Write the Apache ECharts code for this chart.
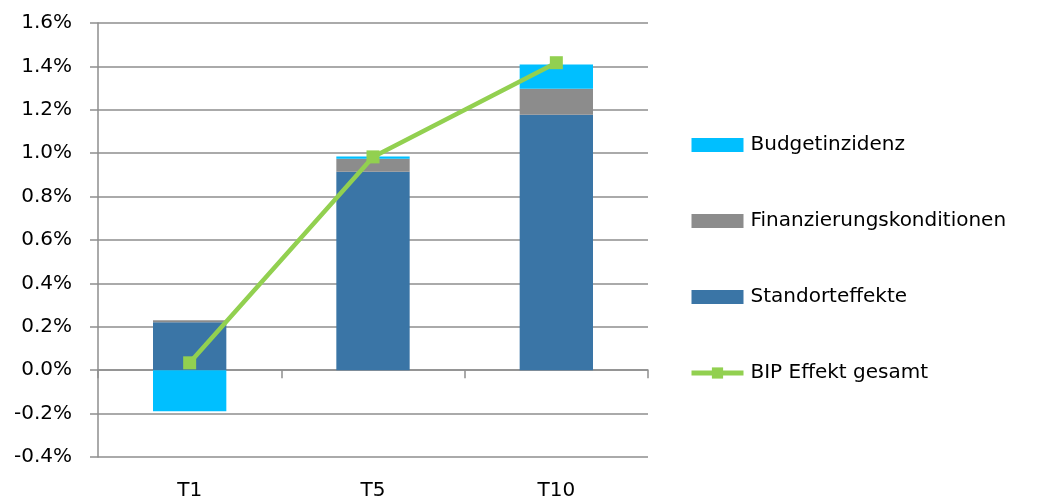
<!DOCTYPE html>
<html>
<head>
<meta charset="utf-8">
<script src="https://cdn.jsdelivr.net/npm/echarts@6/dist/echarts.min.js"></script>
<style>
  html, body { margin: 0; padding: 0; background: #fff; }
  #chart { width: 1043px; height: 502px; }
</style>
</head>
<body>
<div id="chart"></div>
<script>
// Werte in Prozent
const categories = ['T1', 'T5', 'T10'];
const standortValues = [0.221, 0.914, 1.177];
const finanzValues = [0.009, 0.061, 0.12];
const budgetValues = [-0.189, 0.01, 0.112];
const bipValues = [0.034, 0.983, 1.417];

const colors = {
    budget: '#00BFFF',
    finanz: '#8C8C8C',
    standort: '#3A75A6',
    bip: '#92D050',
    grid: '#8E8E8E'
};

const font = 'DejaVu Sans';
const chart = echarts.init(document.getElementById('chart'));

chart.setOption({
    animation: false,
    backgroundColor: '#fff',
    grid: { left: 98, right: 395, top: 23, bottom: 45 },
    legend: {
        orient: 'vertical',
        left: 684,
        top: 130,
        itemWidth: 52,
        itemHeight: 14,
        itemGap: 56,
        textStyle: { fontFamily: font, fontSize: 20, color: '#000', padding: [0, 0, 0, 2] },
        data: [
            { name: 'Budgetinzidenz', icon: 'rect' },
            { name: 'Finanzierungskonditionen', icon: 'rect' },
            { name: 'Standorteffekte', icon: 'rect' },
            { name: 'BIP Effekt gesamt', lineStyle: { width: 5 } }
        ]
    },
    xAxis: [
        {
            type: 'category',
            data: categories,
            axisLine: { onZero: true, lineStyle: { color: colors.grid, width: 1.5 } },
            axisTick: { show: true, length: 8, lineStyle: { color: colors.grid, width: 1.5 } },
            axisLabel: { show: false }
        },
        {
            type: 'category',
            data: categories,
            position: 'bottom',
            axisLine: { show: false, onZero: false },
            axisTick: { show: false },
            axisLabel: { fontFamily: font, fontSize: 20, color: '#000', margin: 24 }
        }
    ],
    yAxis: {
        type: 'value',
        min: -0.4,
        max: 1.6,
        interval: 0.2,
        axisLine: { show: true, lineStyle: { color: colors.grid, width: 1.5 } },
        axisTick: { show: true, length: 8, lineStyle: { color: colors.grid, width: 1.5 } },
        axisLabel: {
            fontFamily: font,
            fontSize: 20,
            color: '#000',
            margin: 26,
            formatter: v => v.toFixed(1) + '%'
        },
        splitLine: { show: true, lineStyle: { color: colors.grid, width: 1.5 } }
    },
    series: [
        {
            name: 'Standorteffekte',
            type: 'bar',
            stack: 'total',
            barWidth: '40%',
            data: standortValues,
            itemStyle: { color: colors.standort }
        },
        {
            name: 'Finanzierungskonditionen',
            type: 'bar',
            stack: 'total',
            data: finanzValues,
            itemStyle: { color: colors.finanz }
        },
        {
            name: 'Budgetinzidenz',
            type: 'bar',
            stack: 'total',
            data: budgetValues,
            itemStyle: { color: colors.budget }
        },
        {
            name: 'BIP Effekt gesamt',
            type: 'line',
            data: bipValues,
            symbol: 'rect',
            symbolSize: 13,
            lineStyle: { color: colors.bip, width: 4.5 },
            itemStyle: { color: colors.bip },
            z: 5
        }
    ]
});
</script>
</body>
</html>
